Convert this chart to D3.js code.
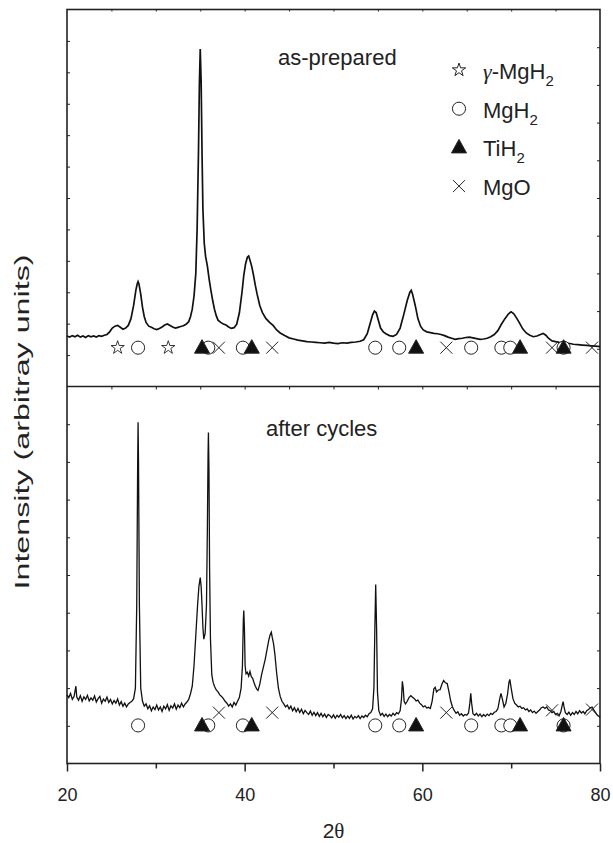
<!DOCTYPE html>
<html lang="en">
<head>
  <meta charset="UTF-8">
  <title>XRD patterns</title>
  <script src="https://d3js.org/d3.v7.min.js"></script>
  <style>
    body { margin: 0; background: #fff; }
    text { font-family: "Liberation Sans", Arial, sans-serif; fill: #222; }
    .sym { font-family: "Liberation Serif", "DejaVu Serif", serif; }
  </style>
</head>
<body>
  <div id="chart"></div>
  <script>
    // 2θ (deg) vs intensity (arb. units)
    const asPrepared = [
      [20.0,134],[20.3,131],[20.6,135],[20.9,132],[21.2,136],[21.5,131],[21.8,134],[22.1,130],[22.4,135],[22.7,132],
      [23.0,134],[23.3,131],[23.6,135],[23.9,133],[24.2,136],[24.5,138],[24.8,145],[25.1,155],[25.4,160],[25.7,162],
      [26.0,157],[26.3,152],[26.6,155],[26.9,162],[27.2,180],[27.5,215],[27.75,255],[27.9,272],[28.0,278],[28.1,272],
      [28.3,245],[28.5,210],[28.7,185],[28.9,170],[29.2,160],[29.5,157],[29.8,153],[30.1,151],[30.4,154],[30.7,158],
      [31.0,163],[31.3,166],[31.6,162],[31.9,158],[32.2,155],[32.5,157],[32.8,159],[33.1,161],[33.4,165],[33.7,172],
      [33.9,185],[34.1,205],[34.3,240],[34.5,300],[34.65,420],[34.8,620],[34.9,800],[35.0,895],[35.1,810],[35.2,620],
      [35.3,470],[35.45,380],[35.6,345],[35.8,320],[36.0,285],[36.2,255],[36.4,228],[36.6,205],[36.8,188],[37.0,176],
      [37.3,170],[37.6,166],[37.9,163],[38.2,158],[38.5,154],[38.8,156],[39.1,165],[39.4,195],[39.7,250],[39.9,295],
      [40.1,325],[40.3,343],[40.45,346],[40.6,335],[40.8,318],[41.0,295],[41.2,268],[41.4,245],[41.7,215],[42.0,196],
      [42.4,180],[42.8,170],[43.2,162],[43.6,150],[44.0,142],[44.5,135],[45.0,129],[45.5,126],[46.0,123],[46.5,121],
      [47.0,119],[47.5,118],[48.0,117],[48.5,116],[49.0,115],[49.5,117],[50.0,115],[50.5,114],[51.0,116],[51.5,115],
      [52.0,117],[52.5,118],[53.0,120],[53.4,124],[53.8,140],[54.1,165],[54.4,190],[54.6,200],[54.8,196],[55.0,180],
      [55.3,155],[55.6,145],[55.9,140],[56.3,135],[56.7,133],[57.1,138],[57.5,155],[57.9,190],[58.3,228],[58.6,250],
      [58.75,255],[58.9,245],[59.2,215],[59.5,180],[59.8,160],[60.1,150],[60.5,145],[60.9,143],[61.3,141],[61.7,140],
      [62.1,138],[62.5,135],[62.9,131],[63.3,128],[63.7,125],[64.1,127],[64.5,128],[64.9,130],[65.3,131],[65.7,129],
      [66.1,127],[66.5,125],[66.9,126],[67.3,128],[67.7,132],[68.1,138],[68.5,148],[68.9,165],[69.3,180],[69.7,193],
      [70.0,198],[70.3,193],[70.6,182],[70.9,170],[71.3,153],[71.7,142],[72.1,136],[72.5,132],[72.9,134],[73.3,138],
      [73.6,141],[73.9,136],[74.2,128],[74.6,121],[75.0,119],[75.4,117],[75.8,116],[76.2,115],[76.6,114],[77.0,112],
      [77.5,111],[78.0,110],[78.5,109],[79.0,108],[79.5,107],[80.0,106]
    ];

    const afterCycles = [
      [20.0,182],[20.2,175],[20.4,186],[20.6,170],[20.8,178],[21.0,205],[21.1,176],[21.3,168],[21.5,180],[21.7,165],
      [21.9,177],[22.1,170],[22.3,181],[22.5,166],[22.7,174],[22.9,168],[23.1,179],[23.3,163],[23.5,172],[23.7,178],
      [23.9,160],[24.1,171],[24.3,165],[24.5,176],[24.7,162],[24.9,170],[25.1,158],[25.3,167],[25.5,160],[25.7,171],
      [25.9,155],[26.1,164],[26.3,152],[26.5,160],[26.7,150],[26.9,158],[27.1,162],[27.3,165],[27.5,172],[27.7,200],
      [27.85,420],[27.95,780],[28.0,905],[28.05,800],[28.15,420],[28.3,200],[28.5,165],[28.7,152],[28.9,158],[29.1,145],
      [29.3,153],[29.5,140],[29.7,150],[29.9,143],[30.1,155],[30.3,142],[30.5,150],[30.7,138],[30.9,152],[31.1,145],
      [31.3,156],[31.5,141],[31.7,153],[31.9,147],[32.1,158],[32.3,144],[32.5,155],[32.7,148],[32.9,160],[33.1,150],
      [33.3,158],[33.5,163],[33.7,170],[33.9,185],[34.1,205],[34.3,260],[34.5,340],[34.7,420],[34.85,470],[35.0,493],
      [35.1,470],[35.2,420],[35.3,360],[35.4,330],[35.55,345],[35.7,420],[35.8,620],[35.88,820],[35.92,878],[35.98,780],
      [36.05,520],[36.15,330],[36.3,235],[36.45,215],[36.6,205],[36.8,195],[37.0,190],[37.2,182],[37.4,178],[37.6,172],
      [37.8,165],[38.0,160],[38.2,152],[38.4,158],[38.6,150],[38.8,162],[39.0,155],[39.2,165],[39.4,175],[39.6,200],
      [39.75,260],[39.85,380],[39.9,406],[39.97,360],[40.05,260],[40.15,238],[40.3,242],[40.45,232],[40.6,244],[40.75,230],
      [40.9,226],[41.05,215],[41.2,205],[41.35,198],[41.5,194],[41.7,210],[41.9,235],[42.1,255],[42.3,275],[42.5,300],
      [42.7,325],[42.85,340],[43.0,348],[43.1,335],[43.25,318],[43.4,290],[43.6,240],[43.8,200],[44.0,178],[44.2,165],
      [44.4,158],[44.6,150],[44.8,155],[45.0,145],[45.2,152],[45.4,140],[45.6,148],[45.8,137],[46.0,146],[46.2,135],
      [46.4,144],[46.6,132],[46.8,141],[47.0,135],[47.2,130],[47.4,139],[47.6,128],[47.8,136],[48.0,127],[48.2,135],
      [48.4,125],[48.6,133],[48.8,124],[49.0,131],[49.2,122],[49.4,130],[49.6,127],[49.8,121],[50.0,129],[50.2,120],
      [50.4,128],[50.6,123],[50.8,130],[51.0,121],[51.2,127],[51.4,119],[51.6,126],[51.8,120],[52.0,128],[52.2,118],
      [52.4,125],[52.6,121],[52.8,127],[53.0,119],[53.2,126],[53.4,122],[53.6,128],[53.8,124],[54.0,132],[54.2,135],
      [54.4,145],[54.55,200],[54.65,350],[54.75,475],[54.85,360],[54.95,190],[55.1,140],[55.3,128],[55.5,133],[55.7,125],
      [55.9,131],[56.1,124],[56.3,130],[56.5,126],[56.7,133],[56.9,128],[57.1,135],[57.3,132],[57.5,140],[57.65,170],
      [57.75,218],[57.85,200],[57.95,165],[58.1,158],[58.3,165],[58.5,175],[58.7,180],[58.9,176],[59.1,172],[59.3,166],
      [59.5,168],[59.7,160],[59.9,156],[60.1,150],[60.3,153],[60.5,147],[60.7,149],[60.9,146],[61.1,165],[61.3,198],
      [61.45,202],[61.6,190],[61.8,195],[62.0,196],[62.2,210],[62.4,220],[62.6,214],[62.8,212],[63.0,190],[63.2,165],
      [63.4,150],[63.6,140],[63.8,133],[64.0,137],[64.2,128],[64.4,132],[64.6,126],[64.8,130],[65.0,128],[65.2,134],
      [65.35,160],[65.45,186],[65.55,160],[65.7,132],[65.9,128],[66.1,133],[66.3,126],[66.5,131],[66.7,124],[66.9,130],
      [67.1,125],[67.3,131],[67.5,127],[67.7,133],[67.9,130],[68.1,136],[68.3,138],[68.5,145],[68.7,170],[68.85,186],
      [69.0,172],[69.2,150],[69.4,160],[69.6,185],[69.75,215],[69.85,223],[70.0,200],[70.2,172],[70.4,160],[70.6,155],
      [70.8,150],[71.0,152],[71.2,146],[71.4,148],[71.6,142],[71.8,145],[72.0,138],[72.2,142],[72.4,135],[72.6,139],
      [72.8,133],[73.0,138],[73.2,142],[73.4,148],[73.6,150],[73.8,146],[74.0,150],[74.2,142],[74.4,140],[74.6,135],
      [74.8,138],[75.0,130],[75.2,133],[75.4,127],[75.6,138],[75.75,155],[75.85,164],[75.95,150],[76.1,135],[76.3,130],
      [76.5,136],[76.7,128],[76.9,135],[77.1,130],[77.3,138],[77.5,132],[77.7,140],[77.9,134],[78.1,138],[78.3,132],
      [78.5,140],[78.7,143],[78.9,148],[79.1,150],[79.3,142],[79.5,135],[79.7,128],[79.9,125],[80.0,122]
    ];

    // reflection positions (2θ) of each phase
    const gammaMgH2Peaks = [25.7, 31.4];
    const mgH2Peaks = [28.0, 35.9, 39.8, 54.7, 57.4, 65.5, 68.9, 69.9, 75.9];
    const tiH2Peaks = [35.2, 40.8, 59.3, 71.0, 75.9];
    const mgOPeaks = [37.1, 43.1, 62.7, 74.6, 79.1];
    // height (arb. units) of the marker row in each panel
    const topMarkY = 103;
    const botMarkY = 101;
    const botCrossY = [135, 135, 135, 141, 143];

    const xTicks = [20, 30, 40, 50, 60, 70, 80];
    const xLabels = [20, 40, 60, 80];

    const W = 613, H = 843;
    const L = 67, R = 600, T = 9.5, MID = 386.5, B = 763.5;

    const svg = d3.select("#chart").append("svg")
      .attr("width", W).attr("height", H);

    const x = d3.scaleLinear().domain([20, 80]).range([L, R]);
    const yTop = d3.scaleLinear().domain([0, 1000]).range([MID, T]);
    const yTopLeft = d3.scaleLinear().domain([0, 1200]).range([MID, T]);
    const yBot = d3.scaleLinear().domain([0, 1000]).range([B, MID]);

    // axes / frame
    const axisStyle = g => {
      g.select(".domain").remove();
      g.selectAll(".tick line").attr("stroke", "#222").attr("stroke-width", 1);
      g.selectAll(".tick text").remove();
    };

    svg.append("g").attr("transform", `translate(${L},0)`)
      .call(d3.axisRight(yTopLeft).tickValues(d3.range(100, 1200, 100)).tickSize(3))
      .call(axisStyle);
    svg.append("g").attr("transform", `translate(${R},0)`)
      .call(d3.axisLeft(yTop).tickValues(d3.range(100, 1000, 100)).tickSize(3))
      .call(axisStyle);
    svg.append("g").attr("transform", `translate(${L},0)`)
      .call(d3.axisRight(yBot).tickValues(d3.range(100, 1000, 100)).tickSize(3))
      .call(axisStyle);
    svg.append("g").attr("transform", `translate(${R},0)`)
      .call(d3.axisLeft(yBot).tickValues(d3.range(100, 1000, 100)).tickSize(3))
      .call(axisStyle);
    svg.append("g").attr("transform", `translate(0,${T})`)
      .call(d3.axisBottom(x).tickValues(d3.range(25, 80, 5)).tickSize(2))
      .call(axisStyle);
    svg.append("g").attr("transform", `translate(0,${MID})`)
      .call(d3.axisBottom(x).tickValues(d3.range(25, 80, 5)).tickSize(3))
      .call(axisStyle);

    const xAxis = svg.append("g").attr("transform", `translate(0,${B})`)
      .call(d3.axisBottom(x).tickValues(xTicks).tickSize(8).tickPadding(17)
        .tickFormat(d => xLabels.includes(d) ? d : ""));
    xAxis.select(".domain").remove();
    xAxis.selectAll(".tick line")
      .attr("stroke", "#222").attr("stroke-width", 1.5)
      .attr("y2", d => xLabels.includes(d) ? 8 : 5);
    xAxis.selectAll(".tick text")
      .attr("font-size", 18).attr("fill", "#222")
      .style("font-family", "'Liberation Sans', Arial, sans-serif");

    svg.append("rect")
      .attr("x", L).attr("y", T).attr("width", R - L).attr("height", B - T)
      .attr("fill", "none").attr("stroke", "#222").attr("stroke-width", 1.6);
    svg.append("line")
      .attr("x1", L).attr("x2", R).attr("y1", MID).attr("y2", MID)
      .attr("stroke", "#222").attr("stroke-width", 1.6);

    // patterns
    const lineTop = d3.line().x(d => x(d[0])).y(d => yTop(d[1]));
    const lineBot = d3.line().x(d => x(d[0])).y(d => yBot(d[1]));
    svg.append("path").datum(asPrepared).attr("d", lineTop)
      .attr("fill", "none").attr("stroke", "#111").attr("stroke-width", 1.7);
    svg.append("path").datum(afterCycles).attr("d", lineBot)
      .attr("fill", "none").attr("stroke", "#111").attr("stroke-width", 1.3);

    // marker shapes
    const star = d3.symbol().type(d3.symbolStar).size(55)();
    const circle = d3.symbol().type(d3.symbolCircle).size(135)();
    const tri = "M0,-8L7.5,5.5L-7.5,5.5Z";
    const cross = "M-6,-6L6,6M-6,6L6,-6";

    function marks(g, pts, path, fill, sw) {
      g.selectAll(null).data(pts).enter().append("path")
        .attr("transform", d => `translate(${d[0]},${d[1]})`)
        .attr("d", path)
        .attr("fill", fill).attr("stroke", "#222").attr("stroke-width", sw);
    }

    const gm = svg.append("g");
    // top panel
    marks(gm, gammaMgH2Peaks.map(p => [x(p), yTop(topMarkY)]), star, "#fff", 0.9);
    marks(gm, mgH2Peaks.map(p => [x(p), yTop(topMarkY)]), circle, "#fff", 1);
    marks(gm, tiH2Peaks.map(p => [x(p), yTop(topMarkY)]), tri, "#111", 1);
    marks(gm, mgOPeaks.map(p => [x(p), yTop(topMarkY)]), cross, "none", 1);
    // bottom panel
    marks(gm, mgH2Peaks.map(p => [x(p), yBot(botMarkY)]), circle, "#fff", 1);
    marks(gm, tiH2Peaks.map(p => [x(p), yBot(botMarkY)]), tri, "#111", 1);
    marks(gm, mgOPeaks.map((p, i) => [x(p), yBot(botCrossY[i])]), cross, "none", 1);

    // legend
    const legend = [
      { sym: star, fill: "#fff", greek: "γ", pre: "-MgH" },
      { sym: circle, fill: "#fff", greek: "", pre: "MgH" },
      { sym: tri, fill: "#111", greek: "", pre: "TiH" },
      { sym: cross, fill: "none", greek: "", pre: "MgO" }
    ];
    const lg = svg.append("g");
    legend.forEach((d, i) => {
      const cy = 70 + i * 38.7;
      lg.append("path").attr("transform", `translate(459,${cy})`)
        .attr("d", d.sym).attr("fill", d.fill).attr("stroke", "#222").attr("stroke-width", 1);
      const t = lg.append("text").attr("x", 483).attr("y", cy + 9).attr("font-size", 22);
      if (d.greek) t.append("tspan").attr("class", "sym").attr("font-style", "italic").text(d.greek);
      t.append("tspan").text(d.pre);
      if (d.pre !== "MgO") {
        t.append("tspan").attr("font-size", 15).attr("dy", 7).text("2");
      }
    });

    // panel labels
    svg.append("text").attr("x", 278).attr("y", 65).attr("font-size", 22).text("as-prepared");
    svg.append("text").attr("x", 266).attr("y", 436).attr("font-size", 22).text("after cycles");

    // axis titles
    const xt = svg.append("text").attr("x", x(50)).attr("y", 838)
      .attr("text-anchor", "middle").attr("font-size", 21);
    xt.append("tspan").text("2");
    xt.append("tspan").attr("class", "sym").text("θ");
    svg.append("text")
      .attr("transform", "translate(29,422) rotate(-90)")
      .attr("text-anchor", "middle").attr("font-size", 21)
      .attr("textLength", 335).attr("lengthAdjust", "spacingAndGlyphs")
      .text("Intensity (arbitray units)");
  </script>
</body>
</html>
